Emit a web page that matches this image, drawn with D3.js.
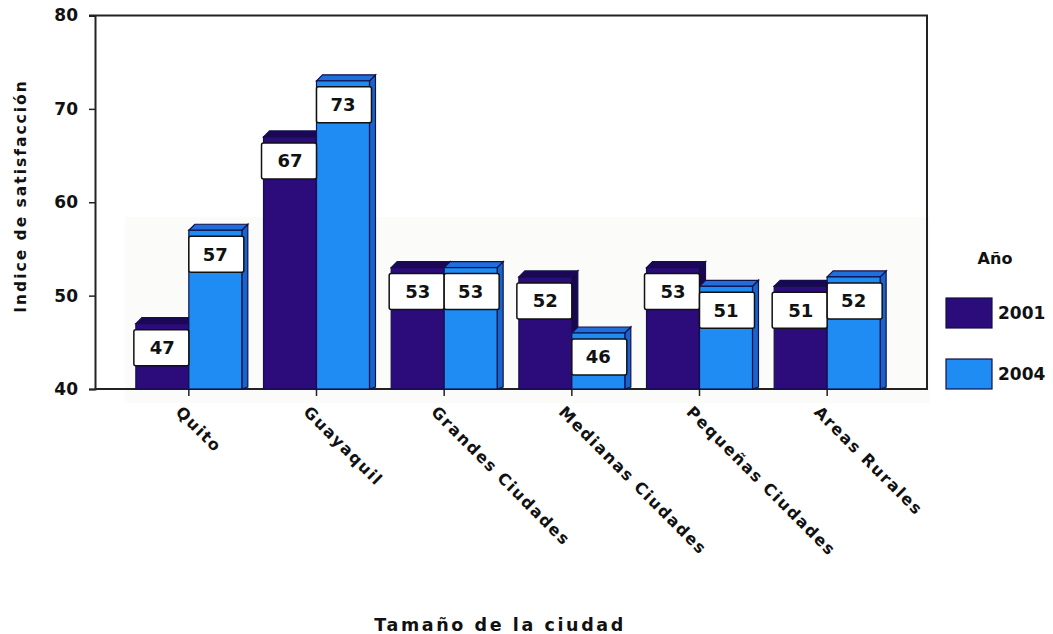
<!DOCTYPE html>
<html>
<head>
<meta charset="utf-8">
<script src="https://cdn.jsdelivr.net/npm/d3@7"></script>
<style>
  body { margin: 0; background: #fff; }
  text { font-family: "DejaVu Sans", Arial, sans-serif; font-weight: bold; fill: #111; }
</style>
</head>
<body>
<svg id="chart" width="1053" height="634"></svg>
<script>
var categories = ['Quito', 'Guayaquil', 'Grandes Ciudades', 'Medianas Ciudades', 'Pequeñas Ciudades', 'Areas Rurales'];
var years = ['2001', '2004'];
var values2001 = [47, 67, 53, 52, 53, 51];
var values2004 = [57, 73, 53, 46, 51, 52];
var yTicks = [40, 50, 60, 70, 80];

var svg = d3.select('#chart');
var frame = {left: 95, right: 927, top: 15.5, bottom: 389};
var depth = 6;
var colors = {
    '2001': {front: '#2c0b7a', top: '#1c0658', side: '#1a0650'},
    '2004': {front: '#1f8cf4', top: '#1e6fdc', side: '#1864cc'}
};

var x = d3.scaleBand().domain(categories).range([125, 891]).paddingInner(0.17).paddingOuter(0.085);
var xSub = d3.scaleBand().domain(years).range([0, x.bandwidth()]);
var y = d3.scaleLinear().domain([40, 80]).range([frame.bottom, frame.top]);

var data = [];
categories.forEach(function(c, i){
    data.push({cat: c, year: '2001', value: values2001[i]});
    data.push({cat: c, year: '2004', value: values2004[i]});
});

// faint panel behind bars
svg.append('rect')
    .attr('x', 125).attr('y', 217)
    .attr('width', 805).attr('height', 186)
    .attr('fill', '#fbfbfa');

// frame
svg.append('path')
    .attr('d', 'M89,' + frame.top + 'H' + frame.right + 'V' + (frame.bottom + 1))
    .attr('fill', 'none').attr('stroke', '#222').attr('stroke-width', 2);
svg.append('line')
    .attr('x1', frame.left).attr('x2', frame.right)
    .attr('y1', frame.bottom).attr('y2', frame.bottom)
    .attr('stroke', '#222').attr('stroke-width', 2);

// y axis
var yAxis = svg.append('g')
    .attr('transform', 'translate(' + frame.left + ',0)')
    .call(d3.axisLeft(y).tickValues(yTicks).tickSize(6).tickPadding(11).tickFormat(d3.format('d')));
yAxis.select('.domain').attr('stroke', '#222').attr('stroke-width', 2);
yAxis.selectAll('.tick line').attr('stroke', '#222').attr('stroke-width', 1.5);
yAxis.selectAll('text')
    .style('font-family', '"DejaVu Sans", Arial, sans-serif')
    .style('font-weight', 'bold')
    .style('font-size', '17px')
    .attr('fill', '#111');

// x axis ticks + rotated labels
var xAxis = svg.append('g')
    .attr('transform', 'translate(0,' + frame.bottom + ')')
    .call(d3.axisBottom(x).tickSize(7).tickFormat(''));
xAxis.select('.domain').remove();
xAxis.selectAll('.tick line').attr('stroke', '#222').attr('stroke-width', 1.5);

svg.selectAll('.xlabel')
    .data(categories)
    .join('text')
    .attr('class', 'xlabel')
    .attr('transform', d => 'translate(' + (x(d) + x.bandwidth() / 2 - 14) + ',413) rotate(45)')
    .attr('text-anchor', 'start')
    .style('font-size', '16px')
    .style('letter-spacing', '1.6px')
    .text(d => d);

// bars (3D)
function drawBar(g, d){
    var x0 = x(d.cat) + xSub(d.year);
    var w = xSub.bandwidth();
    var yt = y(d.value);
    var yb = y(40);
    var c = colors[d.year];
    g.append('path')
        .attr('d', 'M' + (x0 + w) + ',' + yt + 'L' + (x0 + w + depth) + ',' + (yt - depth) +
              'L' + (x0 + w + depth) + ',' + (yb - 2) + 'L' + (x0 + w) + ',' + yb + 'Z')
        .attr('fill', c.side).attr('stroke', '#12104a').attr('stroke-width', 1.2);
    g.append('path')
        .attr('d', 'M' + x0 + ',' + yt + 'L' + (x0 + depth) + ',' + (yt - depth) +
              'L' + (x0 + w + depth) + ',' + (yt - depth) + 'L' + (x0 + w) + ',' + yt + 'Z')
        .attr('fill', c.top).attr('stroke', '#12104a').attr('stroke-width', 1.2);
    g.append('rect')
        .attr('x', x0).attr('y', yt)
        .attr('width', w).attr('height', yb - yt)
        .attr('fill', c.front).attr('stroke', '#12104a').attr('stroke-width', 1.2);
}

var barsG = svg.append('g');
data.forEach(function(d){ drawBar(barsG, d); });

// value boxes
var labels = svg.selectAll('.vlabel')
    .data(data)
    .join('g')
    .attr('class', 'vlabel')
    .attr('transform', d => 'translate(' + (x(d.cat) + xSub(d.year)) + ',' + (y(d.value) + 6) + ')');
labels.append('rect')
    .attr('x', d => d.year == '2001' ? -2 : 0)
    .attr('width', d => xSub.bandwidth() + 2)
    .attr('height', d => Math.min(36, y(40) - y(d.value) - 12))
    .attr('rx', 2)
    .attr('fill', '#fff').attr('stroke', '#111').attr('stroke-width', 1.5);
labels.append('text')
    .attr('x', xSub.bandwidth() / 2)
    .attr('y', d => Math.min(36, y(40) - y(d.value) - 12) / 2)
    .attr('dy', '0.36em')
    .attr('text-anchor', 'middle')
    .style('font-size', '18px')
    .text(d => d.value);

// axis titles
svg.append('text')
    .attr('transform', 'translate(26,196) rotate(-90)')
    .attr('text-anchor', 'middle')
    .style('font-size', '15.5px')
    .style('letter-spacing', '2px')
    .text('Indice de satisfacción');

svg.append('text')
    .attr('x', 500).attr('y', 631)
    .attr('text-anchor', 'middle')
    .style('font-size', '17.5px')
    .style('letter-spacing', '2.6px')
    .text('Tamaño de la ciudad');

// legend
svg.append('text')
    .attr('x', 995).attr('y', 264)
    .attr('text-anchor', 'middle')
    .style('font-size', '16px')
    .text('Año');
var legend = svg.selectAll('.legend')
    .data(years)
    .join('g')
    .attr('class', 'legend')
    .attr('transform', (d, i) => 'translate(946,' + (298 + i * 61) + ')');
legend.append('rect')
    .attr('width', 46).attr('height', 30)
    .attr('fill', d => colors[d].front)
    .attr('stroke', '#12104a').attr('stroke-width', 1.2);
legend.append('text')
    .attr('x', 52).attr('y', 21)
    .style('font-size', '17px')
    .text(d => d);
</script>
</body>
</html>
